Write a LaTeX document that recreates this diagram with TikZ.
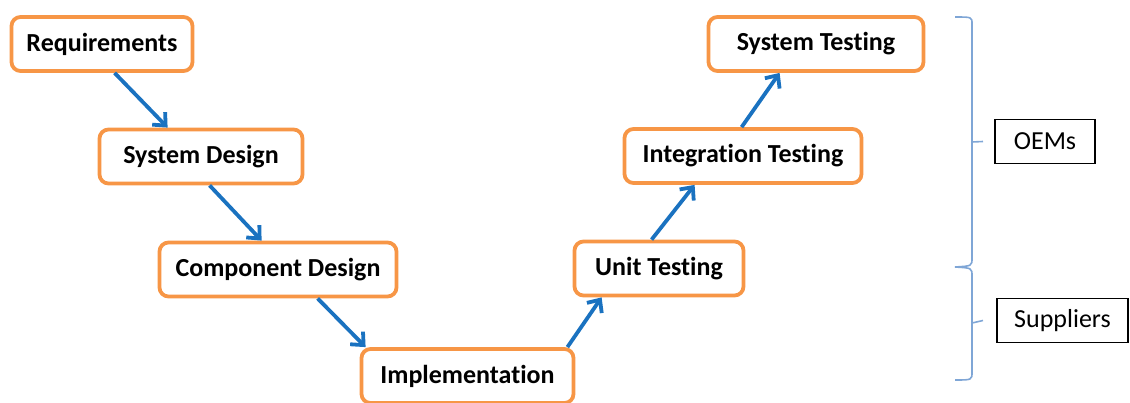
\documentclass[tikz,border=0pt]{standalone}
\usepackage{fontspec}
\setmainfont{Carlito}[Ligatures=CommonOff]
\usetikzlibrary{arrows.meta,calc}
\definecolor{stageorange}{HTML}{F79646}
\definecolor{flowblue}{HTML}{1A72C0}
\definecolor{bracecol}{HTML}{7FA6D6}
\tikzset{
  stage/.style={draw=stageorange, line width=3.8pt, rounded corners=9pt, fill=white,
    inner sep=0pt, minimum height=54pt, font=\fontsize{26}{30}\selectfont\bfseries},
  flow/.style={draw=flowblue, line width=3.8pt,
    -{Straight Barb[length=10pt,width=18pt,line width=3.8pt]}},
  party/.style={draw=black, line width=1.1pt, inner sep=0pt, minimum height=44pt,
    font=\fontsize{26}{30}\selectfont},
  brace/.style={draw=bracecol, line width=1.6pt}
}
\begin{document}
\begin{tikzpicture}[x=1pt,y=-1pt]
\useasboundingbox (0,0) rectangle (1130,402);

\node[stage, minimum width=181pt] (req) at (102,44) {Requirements};
\node[stage, minimum width=203pt] (sd)  at (201,156.5) {System Design};
\node[stage, minimum width=237pt] (cd)  at (278,269.5) {Component Design};
\node[stage, minimum width=212pt] (imp) at (467.5,376) {Implementation};
\node[stage, minimum width=169pt] (ut)  at (659,268.5) {Unit Testing};
\node[stage, minimum width=237pt] (it)  at (743,156) {Integration Testing};
\node[stage, minimum width=215pt] (st)  at (816,44) {System Testing};

\draw[flow] ($(req.south west)+(105,0)$) -- ($(sd.north west)+(70,0)$);
\draw[flow] ($(sd.south west)+(112,0)$) -- ($(cd.north west)+(104,0)$);
\draw[flow] ($(cd.south west)+(160,0)$) -- ($(imp.north west)+(6,0)$);
\draw[flow] ($(imp.north east)+(-8,0)$) -- ($(ut.south west)+(29,0)$);
\draw[flow] ($(ut.north west)+(79,0)$) -- ($(it.south west)+(72,0)$);
\draw[flow] ($(it.north west)+(119,0)$) -- ($(st.south west)+(73,0)$);

% braces grouping the stages
\coordinate (btop) at (955,17);
\coordinate (bmid) at (955,267);
\coordinate (bbot) at (955,380);
\draw[brace] (btop) .. controls (972,17) .. (972,24) -- (972,258)
  .. controls (972,266) .. (bmid) .. controls (972,268) .. (972,276) -- (972,372)
  .. controls (972,380) .. (bbot);

\node[party, minimum width=100pt] (oem) at (1045,141.5) {OEMs};
\node[party, minimum width=131pt] (sup) at (1062.5,320.5) {Suppliers};
\draw[brace] (972,142) -- (oem.west -| 983,0);
\draw[brace] (972,323) -- (sup.west -| 983,0);
\end{tikzpicture}
\end{document}
